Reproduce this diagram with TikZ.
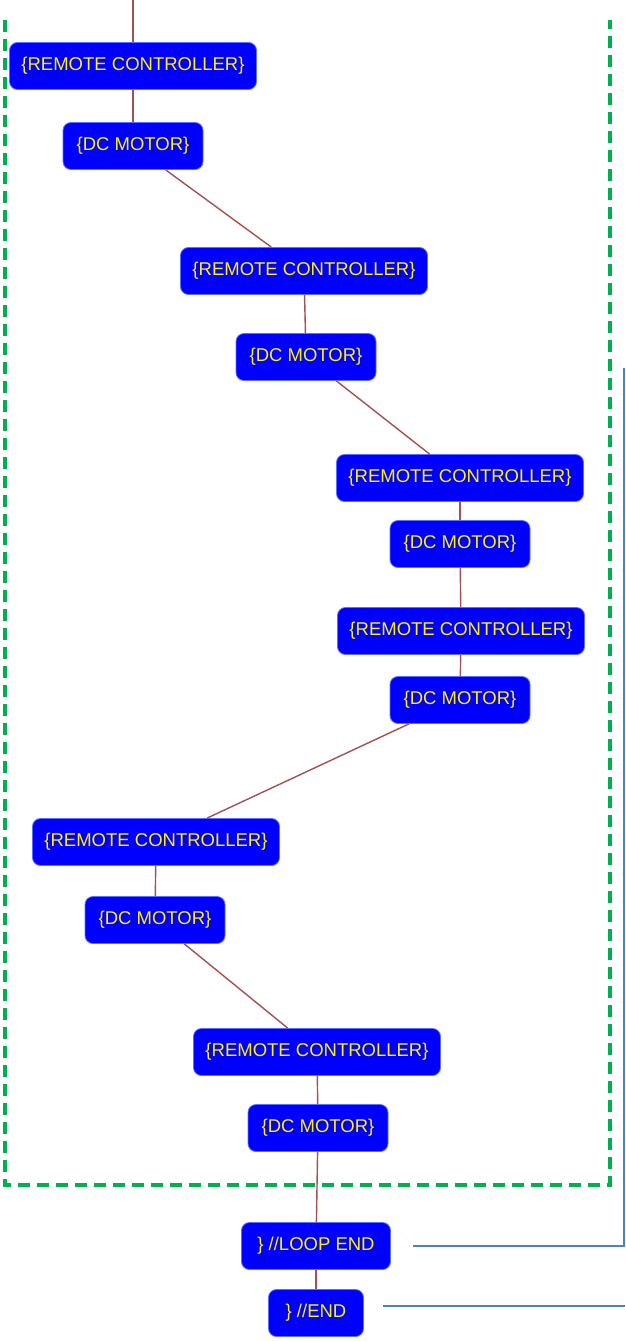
\documentclass[tikz,border=0pt]{standalone}
\usepackage{fontspec}
\setmainfont{Liberation Sans}
\definecolor{nodeblue}{RGB}{0,0,255}
\definecolor{nodeedge}{RGB}{90,110,255}
\definecolor{linkred}{RGB}{165,80,80}
\definecolor{loopgreen}{RGB}{0,176,80}
\definecolor{markblue}{RGB}{79,129,189}
\tikzset{
  blk/.style={draw=nodeedge, line width=0.8pt, fill=nodeblue, rounded corners=8pt,
    text=yellow, font=\fontsize{18.5}{21}\selectfont, inner sep=0pt, minimum height=47pt},
  rc/.style={blk, minimum width=247pt},
  dc/.style={blk, minimum width=140pt},
  link/.style={draw=linkred, line width=1.4pt},
  loopbox/.style={draw=loopgreen, line width=3.5pt, dash pattern=on 12pt off 7pt},
  marker/.style={draw=markblue, line width=1.5pt}
}
\begin{document}
\begin{tikzpicture}[x=1pt,y=-1pt]
\useasboundingbox (0,0) rectangle (625,1341);
% loop region
\draw[loopbox] (5,20) -- (5,1185) -- (610,1185) -- (610,20);
% blocks
\node[rc] (rc1) at (133,66) {\{REMOTE CONTROLLER\}};
\node[dc] (dc1) at (133,146) {\{DC MOTOR\}};
\node[rc] (rc2) at (304,271) {\{REMOTE CONTROLLER\}};
\node[dc] (dc2) at (306,357) {\{DC MOTOR\}};
\node[rc] (rc3) at (460,478) {\{REMOTE CONTROLLER\}};
\node[dc] (dc3) at (460,544) {\{DC MOTOR\}};
\node[rc] (rc4) at (461,631) {\{REMOTE CONTROLLER\}};
\node[dc] (dc4) at (460,700) {\{DC MOTOR\}};
\node[rc] (rc5) at (156,842) {\{REMOTE CONTROLLER\}};
\node[dc] (dc5) at (155,920) {\{DC MOTOR\}};
\node[rc] (rc6) at (317,1052) {\{REMOTE CONTROLLER\}};
\node[dc] (dc6) at (318,1128) {\{DC MOTOR\}};
\node[blk, minimum width=149pt] (lend) at (316,1246) {\} //LOOP END};
\node[blk, minimum width=95pt] (end) at (316,1313) {\} //END};
% links
\coordinate (top) at (133,0);
\draw[link] (top) -- (rc1);
\draw[link] (rc1) -- (dc1);
\draw[link] (dc1) -- (rc2);
\draw[link] (rc2) -- (dc2);
\draw[link] (dc2) -- (rc3);
\draw[link] (rc3) -- (dc3);
\draw[link] (dc3) -- (rc4);
\draw[link] (rc4) -- (dc4);
\draw[link] (dc4) -- (rc5);
\draw[link] (rc5) -- (dc5);
\draw[link] (dc5) -- (rc6);
\draw[link] (rc6) -- (dc6);
\draw[link] (dc6) -- (lend);
\draw[link] (lend) -- (end);
% side markers
\coordinate (m1) at (413,1246);
\coordinate (m2) at (624,1246);
\coordinate (m3) at (624,368);
\coordinate (m4) at (383,1306);
\coordinate (m5) at (625,1306);
\draw[marker] (m1) -- (m2) -- (m3);
\draw[marker] (m4) -- (m5);
\end{tikzpicture}
\end{document}
